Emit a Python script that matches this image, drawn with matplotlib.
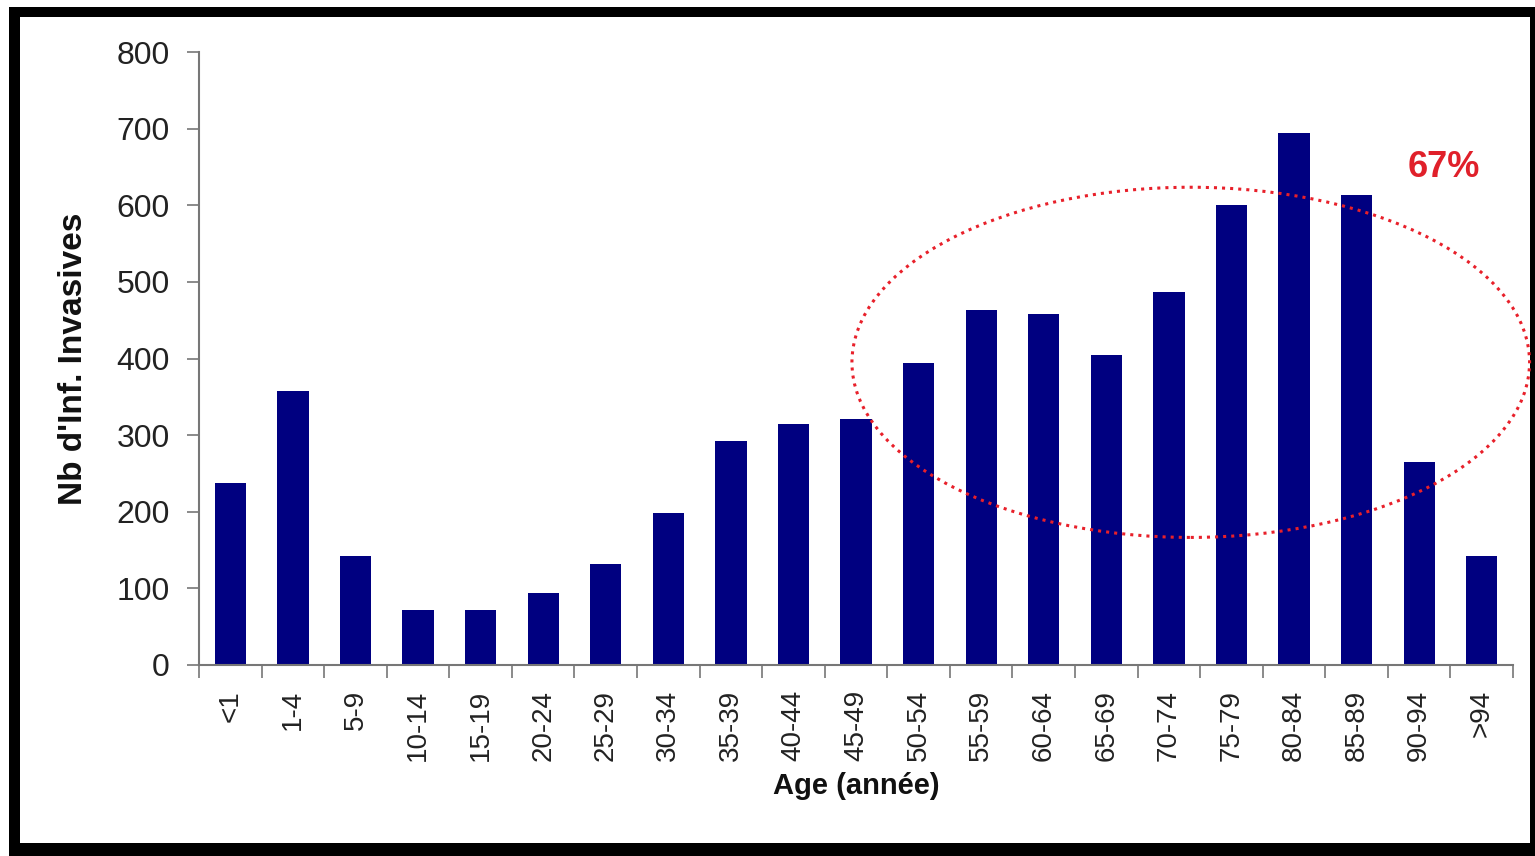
import matplotlib
matplotlib.use("Agg")
import matplotlib.pyplot as plt
from matplotlib.patches import Rectangle, Ellipse
import numpy as np

plt.rcParams['font.family'] = ['Liberation Sans', 'DejaVu Sans']

# age groups and number of invasive infections
age_groups = ['<1', '1-4', '5-9', '10-14', '15-19', '20-24', '25-29', '30-34',
              '35-39', '40-44', '45-49', '50-54', '55-59', '60-64', '65-69',
              '70-74', '75-79', '80-84', '85-89', '90-94', '>94']
nb_infections = [237, 357, 142, 72, 72, 94, 132, 198, 292, 314, 321, 394,
                 463, 458, 404, 487, 600, 694, 613, 265, 142]
y_ticks = [0, 100, 200, 300, 400, 500, 600, 700, 800]
share_label = '67%'

fig = plt.figure(figsize=(15.35, 8.56), dpi=100)
W, H = 1535, 856

# black frame around the chart
fig.add_artist(Rectangle((9 / W, 0), (W - 9) / W, (H - 7) / H,
                         transform=fig.transFigure, facecolor='black',
                         edgecolor='none', zorder=0))
fig.add_artist(Rectangle((20 / W, 13 / H), 1510 / W, 826 / H,
                         transform=fig.transFigure, facecolor='white',
                         edgecolor='none', zorder=0))

ax = fig.add_axes([199 / W, (H - 665) / H, (1513 - 199) / W, (665 - 52) / H])
ax.set_facecolor('none')

x = np.arange(len(age_groups))
ax.bar(x, nb_infections, width=0.5, color='#000080', zorder=2)

ax.set_xlim(-0.5, len(age_groups) - 0.5)
ax.set_ylim(0, 800)
ax.set_yticks(y_ticks)
ax.set_yticklabels([str(v) for v in y_ticks], fontsize=23, color='#222222')

# ticks between the categories, labels centred under the bars
ax.set_xticks(np.arange(len(age_groups) + 1) - 0.5)
ax.set_xticklabels([])
ax.set_xticks(x, minor=True)
ax.set_xticklabels(age_groups, minor=True, rotation=90, fontsize=20,
                   color='#222222')
ax.tick_params(axis='x', which='major', length=9, width=1.2, color='#777777',
               direction='out')
ax.tick_params(axis='x', which='minor', length=0, pad=18)
ax.tick_params(axis='y', length=9, width=1.2, color='#777777', pad=12)

for side in ['top', 'right']:
    ax.spines[side].set_visible(False)
for side in ['left', 'bottom']:
    ax.spines[side].set_color('#777777')
    ax.spines[side].set_linewidth(1.5)

ax.set_ylabel("Nb d'Inf. Invasives", fontsize=24, fontweight='bold',
              color='#111111', labelpad=20)
ax.set_xlabel('Age (année)', fontsize=21, fontweight='bold', color='#111111',
              labelpad=8)

# dotted ellipse around the older age groups
ax.add_patch(Ellipse((15.35, 395), 10.83, 457, fill=False, edgecolor='#e8202a',
                     linestyle=':', linewidth=2.2, clip_on=False, zorder=3))
ax.text(19.4, 649, share_label, color='#e0202a', fontsize=26,
        fontweight='bold', ha='center', va='center')

fig.savefig('out.png', dpi=100, facecolor='white')
